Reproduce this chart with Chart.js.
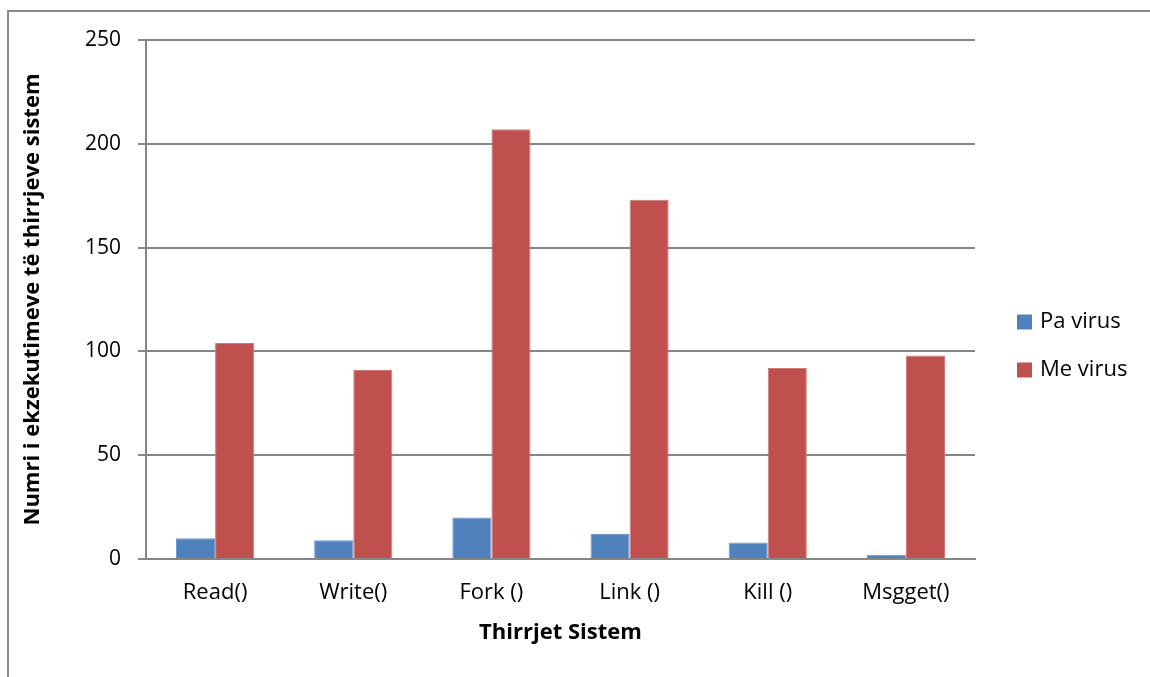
<!DOCTYPE html>
<html>
<head>
<meta charset="utf-8">
<script src="https://cdn.jsdelivr.net/npm/chart.js@4"></script>
<style>
  body { margin: 0; background: #fff; }
  #wrap { position: relative; width: 1150px; height: 677px; overflow: hidden; }
  #frame {
    position: absolute; left: 7px; top: 10px; width: 1200px; height: 720px;
    border-left: 2px solid #8a8a8a; border-top: 2px solid #8a8a8a;
  }
  #chart { position: absolute; left: 0; top: 0; }
</style>
</head>
<body>
<div id="wrap">
  <div id="frame"></div>
  <canvas id="chart" width="1150" height="677"></canvas>
</div>
<script>
const categories = ["Read()", "Write()", "Fork ()", "Link ()", "Kill ()", "Msgget()"];
const paVirus = [10, 9, 20, 12, 8, 2];
const meVirus = [104, 91, 207, 173, 92, 98];
const seriesNames = ["Pa virus", "Me virus"];
const yTitle = "Numri i ekzekutimeve të thirrjeve sistem";
const xTitle = "Thirrjet Sistem";

const FONT = "'Open Sans', sans-serif";
const GRID = "#868686";
const PAD = { left: 0, top: 40, right: 175, bottom: 0 };

// legend drawn by hand so it sits where the box layout wants it
const sideLegend = {
  id: "sideLegend",
  afterDraw(chart) {
    const ctx = chart.ctx;
    const area = chart.chartArea;
    ctx.save();
    ctx.font = "22px " + FONT;
    ctx.textBaseline = "middle";
    chart.data.datasets.forEach((ds, i) => {
      const cy = area.top + 282 + i * 48;
      const bx = area.right + 42;
      ctx.fillStyle = ds.backgroundColor;
      ctx.fillRect(bx, cy - 7.5, 15, 15);
      ctx.fillStyle = "#000";
      ctx.fillText(ds.label, bx + 23, cy);
    });
    ctx.restore();
  }
};

new Chart(document.getElementById("chart"), {
  type: "bar",
  data: {
    labels: categories,
    datasets: [
      {
        label: seriesNames[0],
        data: paVirus,
        backgroundColor: "#4f81bd",
        borderColor: "#7399c9",
        borderWidth: { top: 1, left: 1, right: 1, bottom: 0 },
      },
      {
        label: seriesNames[1],
        data: meVirus,
        backgroundColor: "#c0504d",
        borderColor: "#d07a77",
        borderWidth: { top: 1, left: 1, right: 1, bottom: 0 },
      },
    ],
  },
  options: {
    responsive: false,
    animation: false,
    layout: { padding: PAD },
    categoryPercentage: 0.566,
    barPercentage: 1,
    plugins: {
      legend: { display: false },
      tooltip: { enabled: false },
    },
    scales: {
      x: {
        grid: { display: false },
        border: { display: true, color: GRID, width: 2 },
        ticks: { color: "#000", font: { family: FONT, size: 22 }, padding: 13, maxRotation: 0 },
        title: {
          display: true,
          text: xTitle,
          color: "#000",
          font: { family: FONT, size: 22, weight: "bold" },
          padding: { top: 0, bottom: 31 },
        },
        afterFit(scale) { scale.height = 677 - 559 - PAD.bottom; },
      },
      y: {
        min: 0,
        max: 250,
        ticks: { stepSize: 50, color: "#000", font: { family: FONT, size: 21 }, padding: 17 },
        grid: { color: GRID, lineWidth: 2, tickLength: 8, tickColor: GRID },
        border: { display: true, color: GRID, width: 2 },
        title: {
          display: true,
          text: yTitle,
          color: "#000",
          font: { family: FONT, size: 22, weight: "bold" },
          padding: { top: 20, bottom: 0 },
        },
        afterFit(scale) { scale.width = 146 - PAD.left; },
      },
    },
  },
  plugins: [sideLegend],
});
</script>
</body>
</html>
